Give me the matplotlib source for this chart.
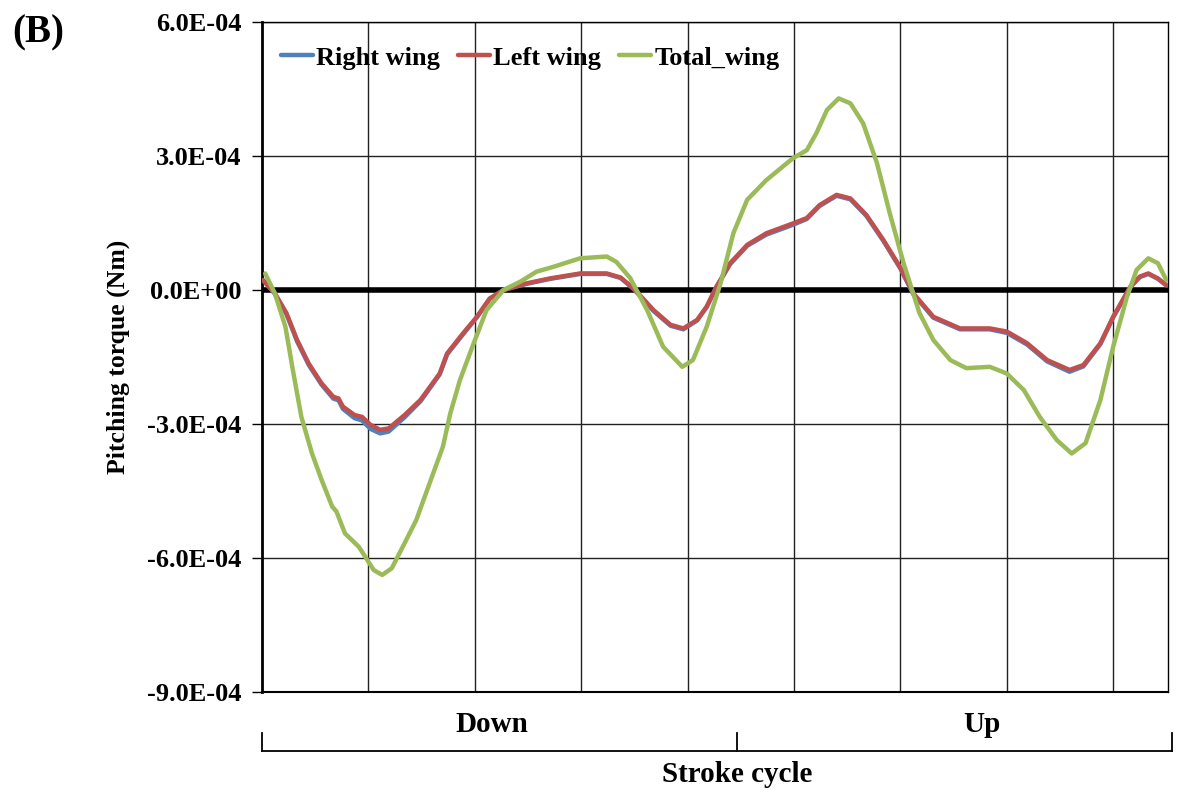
import numpy as np
import matplotlib
matplotlib.use("Agg")
import matplotlib.pyplot as plt
from matplotlib.ticker import FuncFormatter

plt.rcParams['font.family'] = ['Liberation Serif', 'DejaVu Serif']
plt.rcParams['font.weight'] = 'bold'

# stroke position (one unit per grid column) and pitching torque in 1E-04 Nm
t_wing = [0.01, 0.12, 0.23, 0.33, 0.44, 0.56, 0.67, 0.72, 0.76, 0.87, 0.94, 1.02,
          1.11, 1.19, 1.34, 1.49, 1.67, 1.74, 1.89, 2.02, 2.14, 2.27, 2.49, 2.71,
          2.99, 3.24, 3.37, 3.49, 3.68, 3.84, 3.96, 4.09, 4.18, 4.27, 4.40, 4.56,
          4.74, 4.99, 5.12, 5.24, 5.40, 5.53, 5.68, 5.84, 6.00, 6.12, 6.31, 6.56,
          6.84, 7.00, 7.19, 7.38, 7.59, 7.72, 7.88, 8.00, 8.16, 8.25, 8.33, 8.42, 8.50]
left_wing = [0.22, -0.07, -0.52, -1.12, -1.65, -2.09, -2.39, -2.43, -2.61, -2.80, -2.84, -3.02,
             -3.13, -3.10, -2.80, -2.46, -1.87, -1.42, -0.97, -0.60, -0.19, 0.00, 0.15, 0.26,
             0.37, 0.37, 0.28, 0.04, -0.45, -0.78, -0.86, -0.67, -0.37, 0.07, 0.60, 1.01,
             1.27, 1.49, 1.61, 1.90, 2.13, 2.05, 1.68, 1.12, 0.50, -0.07, -0.60, -0.86,
             -0.86, -0.93, -1.19, -1.57, -1.79, -1.68, -1.19, -0.60, 0.07, 0.30, 0.37, 0.26, 0.11]
right_wing = [0.22, -0.08, -0.54, -1.15, -1.68, -2.12, -2.43, -2.47, -2.66, -2.87, -2.92, -3.11,
              -3.21, -3.17, -2.85, -2.49, -1.89, -1.44, -0.99, -0.61, -0.20, 0.00, 0.14, 0.25,
              0.36, 0.36, 0.27, 0.03, -0.47, -0.80, -0.88, -0.68, -0.38, 0.06, 0.58, 0.99,
              1.24, 1.46, 1.59, 1.88, 2.11, 2.03, 1.66, 1.10, 0.48, -0.09, -0.62, -0.88,
              -0.88, -0.96, -1.22, -1.60, -1.83, -1.71, -1.21, -0.61, 0.06, 0.29, 0.36, 0.25, 0.10]

t_total = [0.03, 0.12, 0.22, 0.29, 0.37, 0.47, 0.56, 0.66, 0.70, 0.78, 0.91, 0.97,
           1.05, 1.13, 1.22, 1.34, 1.45, 1.61, 1.70, 1.77, 1.86, 1.99, 2.11, 2.27,
           2.43, 2.58, 2.74, 2.99, 3.24, 3.33, 3.46, 3.62, 3.77, 3.95, 4.05, 4.18,
           4.31, 4.43, 4.56, 4.74, 4.99, 5.12, 5.21, 5.31, 5.42, 5.53, 5.65, 5.78,
           5.90, 6.03, 6.09, 6.18, 6.31, 6.47, 6.62, 6.84, 7.00, 7.16, 7.31, 7.47,
           7.61, 7.74, 7.88, 8.00, 8.13, 8.22, 8.33, 8.42, 8.50]
total_wing = [0.37, -0.07, -0.82, -1.79, -2.84, -3.66, -4.25, -4.85, -4.96, -5.45, -5.75, -5.97,
              -6.27, -6.38, -6.23, -5.67, -5.15, -4.10, -3.51, -2.76, -2.02, -1.19, -0.45, 0.00,
              0.19, 0.41, 0.52, 0.71, 0.75, 0.63, 0.27, -0.45, -1.27, -1.72, -1.57, -0.82,
              0.15, 1.27, 2.02, 2.46, 2.95, 3.13, 3.51, 4.03, 4.29, 4.18, 3.73, 2.84,
              1.72, 0.60, 0.15, -0.52, -1.12, -1.57, -1.75, -1.72, -1.87, -2.24, -2.84, -3.36,
              -3.66, -3.43, -2.46, -1.27, -0.15, 0.45, 0.71, 0.60, 0.22]

y_ticks = [-9e-4, -6e-4, -3e-4, 0.0, 3e-4, 6e-4]
phases = ["Down", "Up"]

fig = plt.figure(figsize=(11.78, 7.92), dpi=100)
ax = fig.add_axes([0.2224, 0.1263, 0.7691, 0.8459])

scale = 1e-4
ax.plot(t_wing, np.array(right_wing) * scale, color='#4F81BD', lw=3.2,
        solid_joinstyle='round', solid_capstyle='round', label='Right wing', zorder=3)
ax.plot(t_wing, np.array(left_wing) * scale, color='#C0504D', lw=3.2,
        solid_joinstyle='round', solid_capstyle='round', label='Left wing', zorder=4)
ax.plot(t_total, np.array(total_wing) * scale, color='#9BBB59', lw=3.2,
        solid_joinstyle='round', solid_capstyle='round', label='Total_wing', zorder=5)

ax.set_xlim(0, 8.515)
ax.set_ylim(-9e-4, 6e-4)
ax.set_yticks(y_ticks)
ax.yaxis.set_major_formatter(FuncFormatter(lambda v, p: '%.1E' % v))
ax.set_xticks(range(1, 9))
ax.tick_params(axis='x', length=0, labelbottom=False)
ax.tick_params(axis='y', direction='out', length=7, width=1, labelsize=19, pad=8)

# grid
for v in range(1, 9):
    ax.axvline(v, color='#222222', lw=1.0, zorder=1)
for v in y_ticks:
    ax.axhline(v, color='#222222', lw=1.0, zorder=1)
ax.axhline(0, color='black', lw=4, zorder=2)

for s in ['top', 'right']:
    ax.spines[s].set_linewidth(1.0)
ax.spines['left'].set_linewidth(2.0)
ax.spines['bottom'].set_linewidth(1.5)

ax.set_ylabel('Pitching torque (Nm)', fontsize=18.5, fontweight='bold')
ax.yaxis.set_label_coords(-0.146, 0.5)

ax.legend(loc='upper left', bbox_to_anchor=(0.021, 0.964), ncol=3, frameon=False,
          fontsize=19, handlelength=1.2, handletextpad=0.12, columnspacing=0.7,
          borderaxespad=0, borderpad=0)

# stroke phase bracket under the axis
split = 0.524
kw = dict(transform=ax.transAxes, clip_on=False, color='black', lw=1.3)
ax.plot([0, 1.0044], [-0.088, -0.088], **kw)
for xb in [0, split, 1.0044]:
    ax.plot([xb, xb], [-0.088, -0.061], **kw)
ax.text(0.254, -0.048, phases[0], transform=ax.transAxes, ha='center', va='center',
        fontsize=21, fontweight='bold')
ax.text(0.795, -0.048, phases[1], transform=ax.transAxes, ha='center', va='center',
        fontsize=21, fontweight='bold')
ax.text(split, -0.123, 'Stroke cycle', transform=ax.transAxes, ha='center', va='center',
        fontsize=21, fontweight='bold')

fig.text(0.010, 0.982, '(B)', ha='left', va='top', fontsize=28, fontweight='bold')

fig.savefig('out.png', dpi=100)
